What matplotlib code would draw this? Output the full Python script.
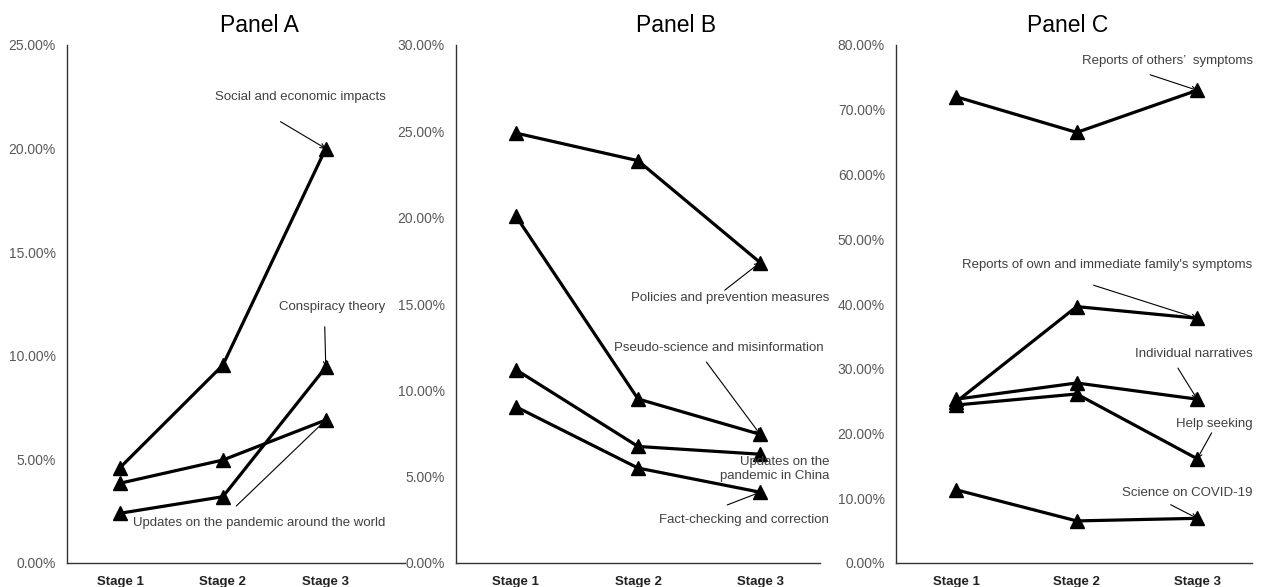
import matplotlib
matplotlib.use('Agg')
from matplotlib import pyplot as plt
from matplotlib.ticker import FuncFormatter

plt.rcParams['font.family'] = ['Liberation Sans', 'DejaVu Sans']

stages = ['Stage 1', 'Stage 2', 'Stage 3']

# Panel A (%)
socialEcon = [4.6, 9.55, 20.0]
conspiracy = [2.4, 3.2, 9.45]
updatesWorld = [3.85, 4.97, 6.9]

# Panel B (%)
policies = [24.9, 23.3, 17.4]
pseudoScience = [20.1, 9.5, 7.45]
updatesChina = [11.2, 6.75, 6.3]
factCheck = [9.05, 5.5, 4.1]

# Panel C (%)
othersSymptoms = [72.0, 66.5, 73.0]
ownSymptoms = [24.9, 39.6, 37.8]
narratives = [25.3, 27.8, 25.3]
helpSeeking = [24.4, 26.1, 16.1]
science = [11.3, 6.5, 6.9]

lineKw = dict(color='black', lw=2.3, marker='^', markersize=9.5, clip_on=False)
textKw = dict(fontsize=9.5, color='#404040')
arrowKw = dict(arrowstyle='->', color='black', lw=0.8, shrinkA=0, shrinkB=0, mutation_scale=8)

fig = plt.figure(figsize=(12.69, 5.87), dpi=100)
bottom = 1 - 563 / 587
height = (563 - 45) / 587
axA = fig.add_axes([67 / 1269, bottom, 338 / 1269, height])
axB = fig.add_axes([456 / 1269, bottom, 364 / 1269, height])
axC = fig.add_axes([896 / 1269, bottom, 356 / 1269, height])

x = [0, 1, 2]


def styleAx(ax, ymax, step, xlim, title, titleX):
    ax.set_ylim(0, ymax)
    ax.set_yticks([i * step for i in range(int(round(ymax / step)) + 1)])
    ax.yaxis.set_major_formatter(FuncFormatter(lambda v, p: '{:.2f}%'.format(v)))
    ax.set_xlim(*xlim)
    ax.set_xticks(x)
    ax.set_xticklabels(stages, fontweight='bold', fontsize=9.5, color='#222222')
    for s in ['top', 'right']:
        ax.spines[s].set_visible(False)
    for s in ['left', 'bottom']:
        ax.spines[s].set_color('#333333')
        ax.spines[s].set_linewidth(1.0)
    ax.tick_params(axis='y', length=0, pad=8, labelsize=10, labelcolor='#595959')
    ax.tick_params(axis='x', length=0, pad=9)
    ax.text(titleX, 1.0386, title, transform=ax.transAxes, ha='center', va='center', fontsize=16.5)


def note(ax, text, tx, ty, start=None, end=None, ha='right'):
    ax.text(tx, ty, text, ha=ha, va='center', **textKw)
    if start is not None:
        ax.annotate('', xy=end, xytext=start, arrowprops=arrowKw, annotation_clip=False)


# Panel A
for series in [socialEcon, conspiracy, updatesWorld]:
    axA.plot(x, series, **lineKw)
styleAx(axA, 25, 5, (-0.515, 2.77), 'Panel A', 0.568)
note(axA, 'Social and economic impacts', 2.58, 22.5, (1.56, 21.3), (2, socialEcon[2]))
note(axA, 'Conspiracy theory', 2.58, 12.36, (1.99, 11.4), (2, conspiracy[2]))
note(axA, 'Updates on the pandemic around the world', 2.58, 1.93, (1.13, 2.75), (2, updatesWorld[2]))

# Panel B
for series in [policies, pseudoScience, updatesChina, factCheck]:
    axB.plot(x, series, **lineKw)
styleAx(axB, 30, 5, (-0.49, 2.49), 'Panel B', 0.604)
note(axB, 'Policies and prevention measures', 2.57, 15.35, (1.71, 15.8), (2, policies[2]))
note(axB, 'Pseudo-science and misinformation', 2.52, 12.45, (1.56, 11.64), (2, pseudoScience[2]))
axB.text(2.57, 5.45, 'Updates on the\npandemic in China', ha='right', va='center',
         linespacing=1.15, **textKw)
note(axB, 'Fact-checking and correction', 2.56, 2.49, (1.73, 3.36), (2, factCheck[2]))

# Panel C
for series in [othersSymptoms, ownSymptoms, narratives, helpSeeking, science]:
    axC.plot(x, series, **lineKw)
styleAx(axC, 80, 10, (-0.5, 2.455), 'Panel C', 0.483)
note(axC, 'Reports of others\u2019  symptoms', 2.46, 77.5, (1.61, 75.4), (2, othersSymptoms[2]))
note(axC, "Reports of own and immediate family's symptoms", 2.46, 46.0, (1.14, 42.9), (2, ownSymptoms[2]))
note(axC, 'Individual narratives', 2.46, 32.3, (1.84, 30.1), (2, narratives[2]))
note(axC, 'Help seeking', 2.46, 21.5, (2.12, 20.1), (2, helpSeeking[2]))
note(axC, 'Science on COVID-19', 2.46, 10.8, (1.78, 9.0), (2, science[2]))

fig.savefig('out.png', dpi=100)
